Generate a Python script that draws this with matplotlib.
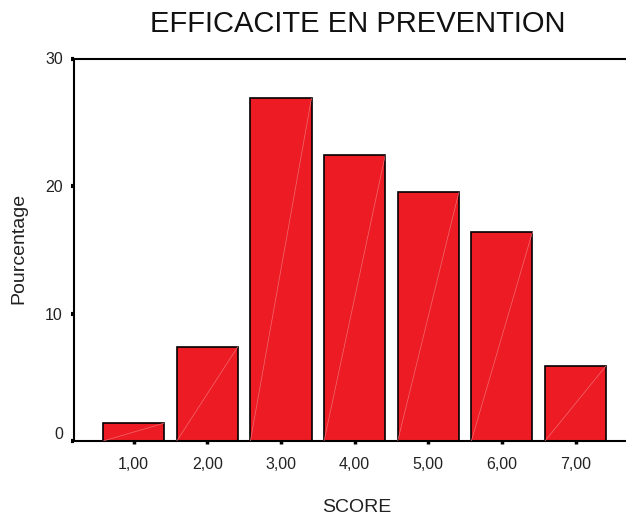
import matplotlib
matplotlib.use("Agg")
import matplotlib.pyplot as plt
import matplotlib.transforms as mtransforms
import numpy as np

plt.rcParams['font.family'] = ['Liberation Sans', 'DejaVu Sans']

scores = [1, 2, 3, 4, 5, 6, 7]
tick_labels = ["1,00", "2,00", "3,00", "4,00", "5,00", "6,00", "7,00"]
percentages = [1.4, 7.4, 26.9, 22.4, 19.5, 16.4, 5.9]
y_ticks = [0, 10, 20, 30]

fig = plt.figure(figsize=(6.26, 5.16), dpi=100)
ax = fig.add_axes([74/626, 1-441/516, 1-74/626, (441-58.5)/516])

bar_w = 0.83
ax.bar(scores, percentages, width=bar_w, color='#ED1C24', edgecolor='black',
       linewidth=1.2, zorder=2)
# faint diagonal artefact lines inside the bars
for x, v in zip(scores, percentages):
    ax.plot([x - bar_w/2, x + bar_w/2], [0, v], color='#F26A70', lw=0.5,
            zorder=3, solid_capstyle='butt')

ax.set_xlim(0.19, 7.685)
ax.set_ylim(0, 30)
ax.set_xticks(scores)
ax.set_xticklabels(tick_labels, fontsize=11.5)
ax.set_yticks(y_ticks)
ax.set_yticklabels([str(t) for t in y_ticks], fontsize=11.5)

ax.spines['right'].set_visible(False)
for s in ['left', 'top', 'bottom']:
    ax.spines[s].set_linewidth(1.5)
    ax.spines[s].set_color('black')

ax.tick_params(axis='x', direction='out', length=2.5, width=2.5, pad=9, colors='black')
ax.tick_params(axis='y', direction='out', length=2, width=3, pad=6, colors='black')
ax.tick_params(labelcolor='#222222')

# raise the "0" label slightly as in the reference
lbl0 = ax.get_yticklabels()[0]
lbl0.set_transform(lbl0.get_transform() +
                   mtransforms.ScaledTranslation(0, 8/100, fig.dpi_scale_trans))

fig.text(19/626, 1-248/516, "Pourcentage", rotation=90, fontsize=14,
         ha='center', va='center', color='#222222')
fig.text(357/626, 1-508/516, "SCORE", fontsize=14, ha='center', va='center',
         color='#222222')
fig.text(358/626, 1-24/516, "EFFICACITE EN PREVENTION", fontsize=21,
         ha='center', va='center', color='#111111')

fig.savefig("out.png", dpi=100)
